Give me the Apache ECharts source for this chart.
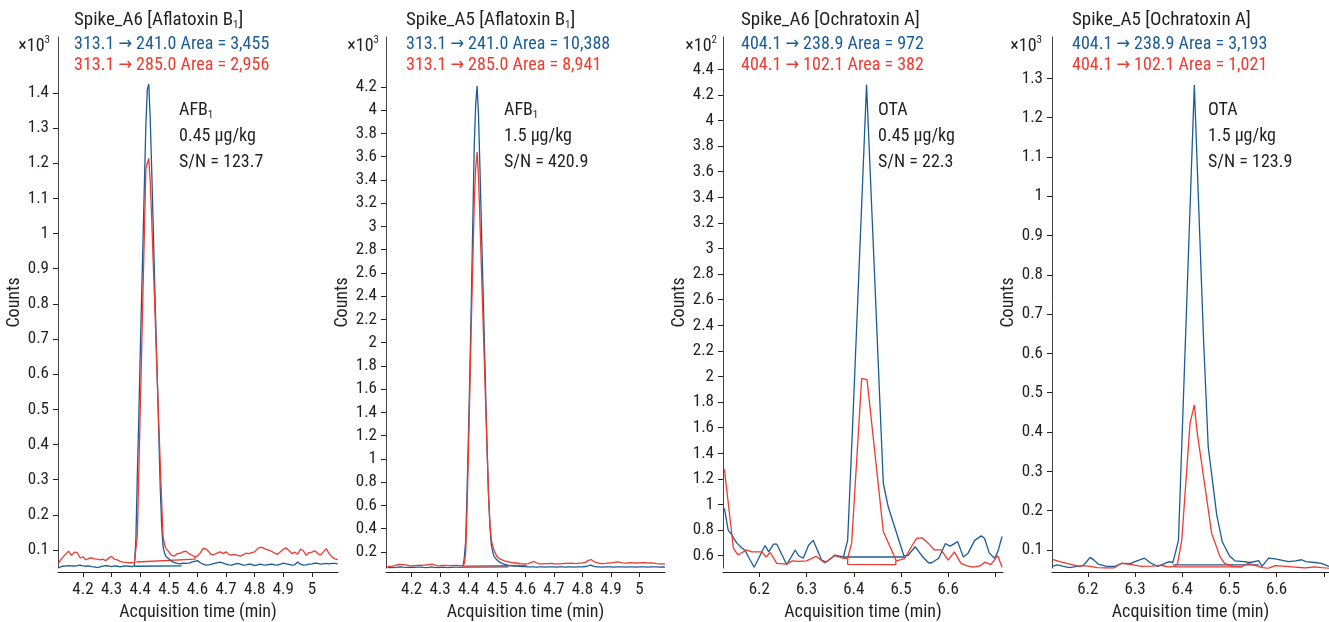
<!DOCTYPE html>
<html lang="en">
<head>
<meta charset="utf-8" />
<title>Aflatoxin B1 / Ochratoxin A chromatograms</title>
<style>
  html, body { margin: 0; padding: 0; background: #fff; }
  #main { width: 1329px; height: 622px; }
</style>
</head>
<body>
<div id="main"></div>
<script src="https://cdn.jsdelivr.net/npm/echarts@6/dist/echarts.min.js"></script>
<script>
// ---- AFB1 (both spikes share the same time grid), counts in x10^3 ----
const afbTime = [
  4.115, 4.12, 4.13, 4.14, 4.15, 4.16, 4.17, 4.18, 4.19, 4.20,
  4.21, 4.22, 4.23, 4.24, 4.25, 4.26, 4.27, 4.28, 4.29, 4.30,
  4.31, 4.32, 4.33, 4.34, 4.35, 4.36, 4.37, 4.38, 4.385, 4.39,
  4.395, 4.40, 4.405, 4.41, 4.415, 4.42, 4.425, 4.43, 4.435, 4.44,
  4.445, 4.45, 4.455, 4.46, 4.465, 4.47, 4.475, 4.48, 4.485, 4.49,
  4.50, 4.51, 4.52, 4.53, 4.54, 4.55, 4.56, 4.57, 4.58, 4.59,
  4.60, 4.61, 4.62, 4.63, 4.64, 4.65, 4.66, 4.67, 4.68, 4.69,
  4.70, 4.71, 4.72, 4.73, 4.74, 4.75, 4.76, 4.77, 4.78, 4.79,
  4.80, 4.81, 4.82, 4.83, 4.84, 4.85, 4.86, 4.87, 4.88, 4.89,
  4.90, 4.91, 4.92, 4.93, 4.94, 4.95, 4.96, 4.97, 4.98, 4.99,
  5.00, 5.01, 5.02, 5.03, 5.04, 5.05, 5.06, 5.07, 5.08, 5.09
];
// Spike_A6, 313.1 -> 241.0
const a6Afb241 = [
  0.050, 0.052, 0.054, 0.055, 0.056, 0.055, 0.054, 0.056, 0.057, 0.055,
  0.054, 0.055, 0.053, 0.052, 0.050, 0.052, 0.054, 0.056, 0.055, 0.053,
  0.055, 0.054, 0.052, 0.054, 0.055, 0.054, 0.053, 0.056, 0.13, 0.31,
  0.47, 0.65, 0.82, 0.98, 1.15, 1.31, 1.41, 1.425, 1.33, 1.19,
  1.04, 0.88, 0.73, 0.58, 0.43, 0.28, 0.17, 0.11, 0.092, 0.082,
  0.075, 0.068, 0.064, 0.062, 0.061, 0.063, 0.062, 0.063, 0.066, 0.068,
  0.070, 0.064, 0.060, 0.057, 0.058, 0.060, 0.062, 0.064, 0.066, 0.063,
  0.060, 0.058, 0.057, 0.060, 0.062, 0.060, 0.057, 0.058, 0.060, 0.059,
  0.056, 0.058, 0.060, 0.058, 0.057, 0.059, 0.060, 0.058, 0.057, 0.060,
  0.063, 0.061, 0.059, 0.057, 0.058, 0.066, 0.060, 0.057, 0.058, 0.060,
  0.061, 0.063, 0.062, 0.060, 0.061, 0.062, 0.061, 0.062, 0.062, 0.061
];
// Spike_A6, 313.1 -> 285.0
const a6Afb285 = [
  0.062, 0.070, 0.080, 0.088, 0.097, 0.085, 0.094, 0.093, 0.078, 0.081,
  0.072, 0.076, 0.078, 0.075, 0.074, 0.072, 0.074, 0.070, 0.077, 0.082,
  0.074, 0.072, 0.068, 0.066, 0.065, 0.064, 0.064, 0.065, 0.066, 0.14,
  0.31, 0.49, 0.66, 0.84, 1.01, 1.186, 1.20, 1.214, 1.15, 1.05,
  0.93, 0.82, 0.70, 0.58, 0.46, 0.35, 0.24, 0.14, 0.115, 0.105,
  0.095, 0.085, 0.083, 0.090, 0.091, 0.095, 0.097, 0.090, 0.086, 0.081,
  0.083, 0.092, 0.105, 0.103, 0.095, 0.086, 0.088, 0.092, 0.095, 0.090,
  0.095, 0.087, 0.086, 0.088, 0.085, 0.083, 0.087, 0.091, 0.090, 0.093,
  0.095, 0.104, 0.108, 0.106, 0.102, 0.100, 0.096, 0.091, 0.088, 0.095,
  0.102, 0.106, 0.098, 0.090, 0.094, 0.088, 0.103, 0.098, 0.085, 0.093,
  0.094, 0.098, 0.090, 0.086, 0.095, 0.104, 0.090, 0.080, 0.075, 0.073
];
// Spike_A5, 313.1 -> 241.0
const a5Afb241 = [
  0.066, 0.067, 0.068, 0.066, 0.070, 0.072, 0.069, 0.068, 0.067, 0.070,
  0.068, 0.069, 0.070, 0.067, 0.066, 0.068, 0.072, 0.068, 0.066, 0.068,
  0.070, 0.067, 0.066, 0.068, 0.070, 0.069, 0.068, 0.070, 0.15, 0.30,
  0.75, 1.25, 1.80, 2.40, 3.05, 3.70, 4.05, 4.21, 3.95, 3.50,
  3.02, 2.54, 2.06, 1.58, 1.10, 0.70, 0.42, 0.26, 0.20, 0.16,
  0.13, 0.11, 0.10, 0.09, 0.085, 0.080, 0.078, 0.080, 0.076, 0.074,
  0.073, 0.072, 0.071, 0.072, 0.070, 0.071, 0.072, 0.070, 0.071, 0.072,
  0.071, 0.070, 0.072, 0.071, 0.070, 0.072, 0.071, 0.070, 0.072, 0.071,
  0.072, 0.075, 0.080, 0.086, 0.076, 0.072, 0.071, 0.070, 0.071, 0.072,
  0.071, 0.070, 0.071, 0.072, 0.071, 0.070, 0.071, 0.072, 0.071, 0.070,
  0.071, 0.072, 0.071, 0.070, 0.071, 0.072, 0.071, 0.070, 0.071, 0.070
];
// Spike_A5, 313.1 -> 285.0
const a5Afb285 = [
  0.074, 0.075, 0.078, 0.082, 0.090, 0.092, 0.091, 0.088, 0.082, 0.080,
  0.082, 0.084, 0.086, 0.085, 0.088, 0.090, 0.095, 0.088, 0.080, 0.082,
  0.085, 0.084, 0.083, 0.082, 0.084, 0.085, 0.083, 0.082, 0.10, 0.20,
  0.60, 1.10, 1.65, 2.20, 2.70, 3.20, 3.50, 3.64, 3.43, 3.04,
  2.65, 2.26, 1.87, 1.48, 1.09, 0.70, 0.45, 0.30, 0.25, 0.21,
  0.16, 0.14, 0.13, 0.12, 0.115, 0.11, 0.105, 0.105, 0.10, 0.098,
  0.097, 0.100, 0.110, 0.118, 0.105, 0.097, 0.098, 0.100, 0.099, 0.101,
  0.098, 0.097, 0.098, 0.100, 0.101, 0.102, 0.103, 0.101, 0.100, 0.104,
  0.106, 0.110, 0.125, 0.135, 0.118, 0.108, 0.103, 0.100, 0.101, 0.104,
  0.106, 0.108, 0.115, 0.112, 0.106, 0.104, 0.105, 0.108, 0.106, 0.105,
  0.106, 0.108, 0.107, 0.106, 0.105, 0.104, 0.100, 0.098, 0.098, 0.097
];

// ---- OTA, Spike_A6 (counts x10^2) ----
const a6Ota239Time = [
  6.126, 6.134, 6.142, 6.152, 6.163, 6.170, 6.177, 6.189, 6.212, 6.220,
  6.230, 6.237, 6.258, 6.276, 6.283, 6.293, 6.304, 6.314, 6.332, 6.342,
  6.360, 6.378, 6.387, 6.398, 6.408, 6.418, 6.427, 6.437, 6.447, 6.455,
  6.4625, 6.473, 6.506, 6.514, 6.530, 6.544, 6.558, 6.565, 6.580, 6.594,
  6.604, 6.620, 6.632, 6.642, 6.656, 6.670, 6.677, 6.687, 6.698, 6.705,
  6.714
];
const a6Ota239 = [
  0.97, 0.80, 0.76, 0.70, 0.66, 0.64, 0.59, 0.51, 0.68, 0.63,
  0.69, 0.69, 0.53, 0.645, 0.60, 0.58, 0.68, 0.72, 0.565, 0.55,
  0.605, 0.59, 0.72, 1.66, 2.56, 3.46, 4.28, 3.40, 2.53, 1.82,
  1.166, 0.98, 0.60, 0.60, 0.67, 0.60, 0.545, 0.545, 0.58, 0.695,
  0.675, 0.71, 0.59, 0.62, 0.72, 0.755, 0.735, 0.62, 0.58, 0.63,
  0.75
];
const a6Ota102Time = [
  6.126, 6.145, 6.155, 6.172, 6.184, 6.205, 6.214, 6.223, 6.237, 6.258,
  6.270, 6.283, 6.300, 6.320, 6.338, 6.360, 6.378, 6.387, 6.3955, 6.4167,
  6.428, 6.4625, 6.490, 6.500, 6.508, 6.522, 6.533, 6.545, 6.557, 6.571,
  6.585, 6.600, 6.613, 6.627, 6.640, 6.653, 6.667, 6.678, 6.690, 6.705,
  6.714
];
const a6Ota102 = [
  1.275, 0.66, 0.605, 0.645, 0.63, 0.63, 0.59, 0.625, 0.54, 0.535,
  0.56, 0.555, 0.56, 0.595, 0.545, 0.60, 0.58, 0.58, 0.70, 1.986,
  1.975, 0.79, 0.56, 0.57, 0.58, 0.67, 0.735, 0.74, 0.70, 0.645,
  0.645, 0.566, 0.63, 0.54, 0.52, 0.51, 0.52, 0.55, 0.53, 0.60,
  0.51
];

// ---- OTA, Spike_A5 (counts x10^3) ----
const a5Ota239Time = [
  6.125, 6.135, 6.148, 6.162, 6.176, 6.190, 6.197, 6.205, 6.213, 6.222,
  6.240, 6.258, 6.271, 6.290, 6.300, 6.320, 6.334, 6.348, 6.360, 6.372,
  6.380, 6.385, 6.392, 6.400, 6.410, 6.418, 6.4256, 6.435, 6.445, 6.455,
  6.473, 6.485, 6.500, 6.512, 6.530, 6.545, 6.562, 6.569, 6.583, 6.597,
  6.610, 6.625, 6.640, 6.653, 6.662, 6.680, 6.695, 6.711
];
const a5Ota239 = [
  0.058, 0.062, 0.058, 0.055, 0.058, 0.060, 0.070, 0.081, 0.074, 0.064,
  0.058, 0.058, 0.066, 0.065, 0.070, 0.079, 0.066, 0.058, 0.064, 0.070,
  0.068, 0.090, 0.125, 0.40, 0.745, 1.02, 1.283, 0.97, 0.64, 0.363,
  0.19, 0.12, 0.085, 0.072, 0.070, 0.068, 0.073, 0.058, 0.079, 0.077,
  0.074, 0.070, 0.072, 0.075, 0.070, 0.068, 0.066, 0.058
];
const a5Ota102Time = [
  6.125, 6.140, 6.162, 6.180, 6.190, 6.205, 6.220, 6.240, 6.255, 6.272,
  6.290, 6.314, 6.335, 6.355, 6.370, 6.385, 6.390, 6.399, 6.4165, 6.4256,
  6.431, 6.4624, 6.480, 6.490, 6.510, 6.525, 6.540, 6.555, 6.570, 6.582,
  6.597, 6.620, 6.640, 6.660, 6.680, 6.695, 6.711
];
const a5Ota102 = [
  0.076, 0.070, 0.064, 0.0585, 0.060, 0.058, 0.055, 0.054, 0.054, 0.066,
  0.063, 0.058, 0.059, 0.061, 0.057, 0.058, 0.065, 0.125, 0.422, 0.469,
  0.405, 0.142, 0.083, 0.065, 0.058, 0.057, 0.066, 0.060, 0.055, 0.053,
  0.060, 0.058, 0.056, 0.054, 0.057, 0.055, 0.053
];

// integration baselines drawn under each peak, [time, counts]
const a6AfbBase241 = [[4.38, 0.054], [4.545, 0.055]];
const a6AfbBase285 = [[4.387, 0.066], [4.592, 0.074], [4.592, 0.082]];
const a5AfbBase241 = [[4.381, 0.070], [4.54, 0.072]];
const a5AfbBase285 = [[4.383, 0.078], [4.604, 0.085]];
const a6OtaBase239 = [[6.378, 0.59], [6.508, 0.59]];
const a6OtaBase102 = [[6.387, 0.58], [6.387, 0.533], [6.489, 0.53], [6.489, 0.56]];
const a5OtaBase239 = [[6.38, 0.062], [6.562, 0.062]];
const a5OtaBase102 = [[6.385, 0.057], [6.525, 0.057]];

// tick labels
const afbTicksX = [4.2, 4.3, 4.4, 4.5, 4.6, 4.7, 4.8, 4.9, 5];
const otaTicksX = [6.2, 6.3, 6.4, 6.5, 6.6, 6.7];
const otaLabelsX = [6.2, 6.3, 6.4, 6.5, 6.6];
const a6AfbTicksY = [0.1, 0.2, 0.3, 0.4, 0.5, 0.6, 0.7, 0.8, 0.9, 1, 1.1, 1.2, 1.3, 1.4];
const a5AfbTicksY = [0.2, 0.4, 0.6, 0.8, 1, 1.2, 1.4, 1.6, 1.8, 2, 2.2, 2.4, 2.6, 2.8, 3, 3.2, 3.4, 3.6, 3.8, 4, 4.2];
const a6OtaTicksY = [0.6, 0.8, 1, 1.2, 1.4, 1.6, 1.8, 2, 2.2, 2.4, 2.6, 2.8, 3, 3.2, 3.4, 3.6, 3.8, 4, 4.2, 4.4];
const a5OtaTicksY = [0.1, 0.2, 0.3, 0.4, 0.5, 0.6, 0.7, 0.8, 0.9, 1, 1.1, 1.2, 1.3];

const BLUE = '#1b5c96';
const RED = '#ef3a2f';
const INK = '#231f20';
const FONT = "'Liberation Sans Narrow', 'Roboto Condensed', 'DejaVu Sans Condensed', 'Liberation Sans', sans-serif";

const pairs = (t, v) => t.map((x, i) => [x, v[i]]);

const panels = [
  {
    left: 58, right: 338, xMin: 4.113, xMax: 5.091, yMin: 0.049, yMax: 1.559,
    xTicks: afbTicksX, xLabels: afbTicksX, yTicks: a6AfbTicksY,
    blue: pairs(afbTime, a6Afb241), red: pairs(afbTime, a6Afb285),
    blueBase: a6AfbBase241, redBase: a6AfbBase285,
    textX: 74, expX: 50, exp: '3', noteX: 179,
    title: 'Spike_A6 [Aflatoxin B{sub|1}]',
    leg1: '313.1 → 241.0 Area = 3,455', leg2: '313.1 → 285.0 Area = 2,956',
    notes: ['AFB{sub|1}', '0.45 µg/kg', 'S/N = 123.7']
  },
  {
    left: 386, right: 665, xMin: 4.11, xMax: 5.09, yMin: 0.062, yMax: 4.63,
    xTicks: afbTicksX, xLabels: afbTicksX, yTicks: a5AfbTicksY,
    blue: pairs(afbTime, a5Afb241), red: pairs(afbTime, a5Afb285),
    blueBase: a5AfbBase241, redBase: a5AfbBase285,
    textX: 406, expX: 379, exp: '3', noteX: 504,
    title: 'Spike_A5 [Aflatoxin B{sub|1}]',
    leg1: '313.1 → 241.0 Area = 10,388', leg2: '313.1 → 285.0 Area = 8,941',
    notes: ['AFB{sub|1}', '1.5 µg/kg', 'S/N = 420.9']
  },
  {
    left: 723, right: 1003, xMin: 6.123, xMax: 6.716, yMin: 0.504, yMax: 4.652,
    xTicks: otaTicksX, xLabels: otaLabelsX, yTicks: a6OtaTicksY,
    blue: pairs(a6Ota239Time, a6Ota239), red: pairs(a6Ota102Time, a6Ota102),
    blueBase: a6OtaBase239, redBase: a6OtaBase102,
    textX: 741, expX: 717, exp: '2', noteX: 878,
    title: 'Spike_A6 [Ochratoxin A]',
    leg1: '404.1 → 238.9 Area = 972', leg2: '404.1 → 102.1 Area = 382',
    notes: ['OTA', '0.45 µg/kg', 'S/N = 22.3']
  },
  {
    left: 1052, right: 1329, xMin: 6.124, xMax: 6.711, yMin: 0.054, yMax: 1.405,
    xTicks: otaTicksX, xLabels: otaLabelsX, yTicks: a5OtaTicksY,
    blue: pairs(a5Ota239Time, a5Ota239), red: pairs(a5Ota102Time, a5Ota102),
    blueBase: a5OtaBase239, redBase: a5OtaBase102,
    textX: 1072, expX: 1042, exp: '3', noteX: 1208,
    title: 'Spike_A5 [Ochratoxin A]',
    leg1: '404.1 → 238.9 Area = 3,193', leg2: '404.1 → 102.1 Area = 1,021',
    notes: ['OTA', '1.5 µg/kg', 'S/N = 123.9']
  }
];

const GRID_TOP = 37, GRID_BOTTOM = 568;

function textEl(x, y, text, color, size, align) {
  return {
    type: 'text', x: x, y: y, silent: true,
    style: {
      text: text, fill: color, fontSize: size, fontFamily: FONT,
      align: align || 'left', verticalAlign: 'middle', lineHeight: 22,
      rich: {
        sub: { fontSize: 11, fontFamily: FONT, fill: color, verticalAlign: 'bottom' },
        sup: { fontSize: 11, fontFamily: FONT, fill: color, verticalAlign: 'top' }
      }
    }
  };
}

const grid = [], xAxis = [], yAxis = [], series = [], graphic = [];
panels.forEach((p, i) => {
  grid.push({
    left: p.left, width: p.right - p.left, top: GRID_TOP, height: GRID_BOTTOM - GRID_TOP,
    containLabel: false, outerBoundsMode: 'none'
  });
  xAxis.push({
    gridIndex: i, type: 'value', min: p.xMin, max: p.xMax, offset: 4,
    name: 'Acquisition time (min)', nameLocation: 'middle', nameGap: 31,
    nameTextStyle: { color: INK, fontSize: 18, fontFamily: FONT },
    axisLine: { lineStyle: { color: INK, width: 1 } },
    axisTick: { length: 5, lineStyle: { color: INK }, customValues: p.xTicks },
    axisLabel: { color: INK, fontSize: 17, fontFamily: FONT, margin: 9, customValues: p.xLabels },
    splitLine: { show: false }
  });
  yAxis.push({
    gridIndex: i, type: 'value', min: p.yMin, max: p.yMax,
    name: 'Counts', nameLocation: 'middle', nameGap: 33, nameRotate: 90,
    nameTextStyle: { color: INK, fontSize: 18, fontFamily: FONT },
    axisLine: { show: true, lineStyle: { color: '#444', width: 1 } },
    axisTick: { show: true, length: 5, lineStyle: { color: INK }, customValues: p.yTicks },
    axisLabel: { color: INK, fontSize: 17, fontFamily: FONT, margin: 9, customValues: p.yTicks },
    splitLine: { show: false }
  });
  const line = (data, color, z) => ({
    type: 'line', xAxisIndex: i, yAxisIndex: i, data: data, showSymbol: false,
    symbol: 'none', silent: true, z: z,
    lineStyle: { color: color, width: 1.3 }
  });
  series.push(line(p.blueBase, BLUE, 2), line(p.redBase, RED, 2),
              line(p.blue, BLUE, 3), line(p.red, RED, 4));

  graphic.push(textEl(p.textX, 20, p.title, INK, 19));
  graphic.push(textEl(p.textX, 44, p.leg1, BLUE, 18));
  graphic.push(textEl(p.textX, 65, p.leg2, RED, 18));
  graphic.push(textEl(p.expX, 46, '×10{sup|' + p.exp + '}', INK, 18, 'right'));
  p.notes.forEach((n, k) => graphic.push(textEl(p.noteX, 110 + k * 26, n, INK, 18)));
});

const chart = echarts.init(document.getElementById('main'), null, { renderer: 'canvas' });
chart.setOption({
  animation: false,
  backgroundColor: '#fff',
  grid: grid, xAxis: xAxis, yAxis: yAxis, series: series, graphic: graphic
});
</script>
</body>
</html>
